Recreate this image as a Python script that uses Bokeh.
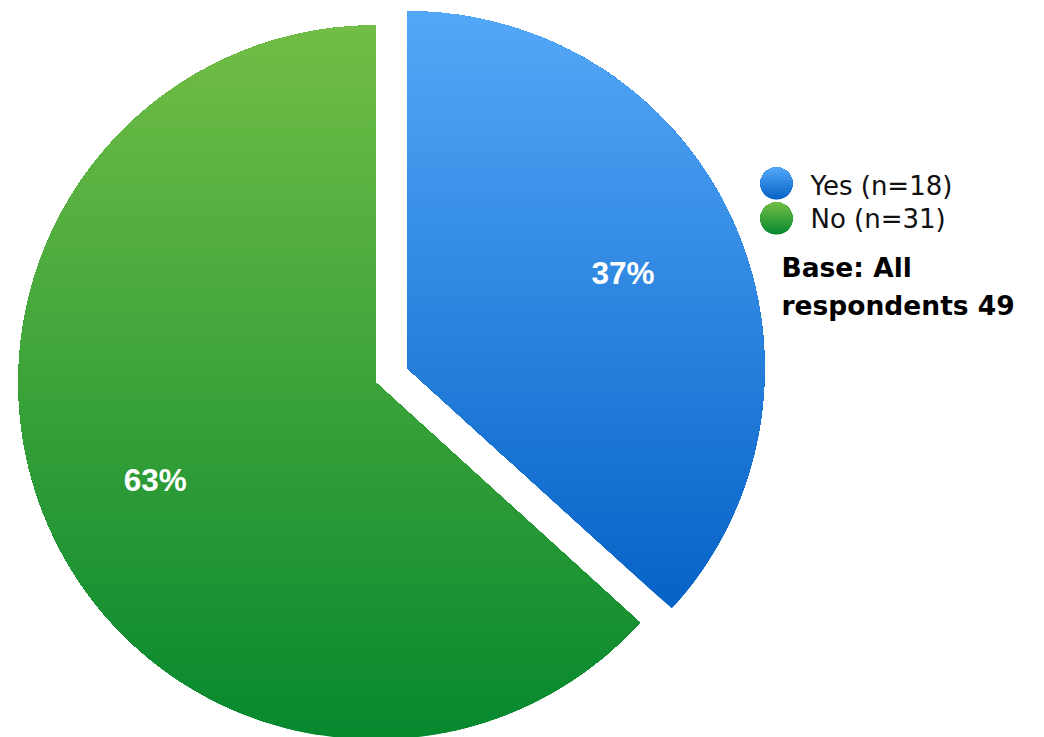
import numpy as np
from bokeh.plotting import figure
from bokeh.models import Range1d
from bokeh.core.properties import value
from bokeh.embed import file_html
from bokeh.resources import INLINE

# ---- data ----
categories = ["Yes", "No"]
counts = [18, 31]
legend_labels = ["Yes (n=18)", "No (n=31)"]
pct_labels = ["37%", "63%"]
base_lines = ["Base: All", "respondents 49"]

# ---- styles ----
top_colors = [(84, 168, 248), (114, 190, 70)]
bottom_colors = [(6, 98, 198), (6, 136, 46)]

W, H = 1044, 737
PAGE_H = 737  # data y = PAGE_H - page y


def py(y):
    return PAGE_H - y


p = figure(width=W, height=H, x_range=Range1d(0, W), y_range=Range1d(PAGE_H - H, PAGE_H),
           output_backend="svg", toolbar_location=None, min_border=0)
p.axis.visible = False
p.grid.visible = False
p.outline_line_color = None
p.background_fill_color = "white"
p.border_fill_color = "white"


def clip_above(xs, ys, t):
    ox, oy = [], []
    n = len(xs)
    for i in range(n):
        x1, y1 = xs[i], ys[i]
        x2, y2 = xs[(i + 1) % n], ys[(i + 1) % n]
        in1, in2 = y1 >= t, y2 >= t
        if in1:
            ox.append(x1); oy.append(y1)
        if in1 != in2:
            s = (t - y1) / (y2 - y1)
            ox.append(x1 + s * (x2 - x1)); oy.append(t)
    return ox, oy


def hexc(c):
    return "#%02x%02x%02x" % tuple(int(round(v)) for v in c)


def gradient_layers(xs, ys, top, bottom, n):
    ymin, ymax = min(ys), max(ys)
    lx, ly, lc = [], [], []
    for k in range(n):
        t = ymin + (ymax - ymin) * k / n
        f = (k + 0.5) / n  # 0 bottom -> 1 top
        col = [b + f * (a - b) for a, b in zip(top, bottom)]
        cx, cy = clip_above(xs, ys, t) if k > 0 else (list(xs), list(ys))
        if len(cx) >= 3:
            lx.append(cx); ly.append(cy); lc.append(hexc(col))
    return lx, ly, lc


# ---- pie ----
cx0, cy0 = 375.0, py(382.0)
R = 357.0
explode = [35.0, 0.0]
label_frac = [0.66, 0.675]

total = float(sum(counts))
angle = np.pi / 2
all_x, all_y, all_c = [], [], []
lab_x, lab_y = [], []
for i, c in enumerate(counts):
    sweep = 2 * np.pi * c / total
    a_start, a_end = angle - sweep, angle
    mid = (a_start + a_end) / 2
    ox = cx0 + explode[i] * np.cos(mid)
    oy = cy0 + explode[i] * np.sin(mid)
    th = np.linspace(a_start, a_end, 400)
    xs = [ox] + list(ox + R * np.cos(th))
    ys = [oy] + list(oy + R * np.sin(th))
    lx, ly, lc = gradient_layers(xs, ys, top_colors[i], bottom_colors[i], 160)
    all_x += lx; all_y += ly; all_c += lc
    lab_x.append(ox + label_frac[i] * R * np.cos(mid))
    lab_y.append(oy + label_frac[i] * R * np.sin(mid))
    angle = a_start

p.patches(all_x, all_y, fill_color=all_c, line_color=None)

p.text(x=lab_x, y=lab_y, text=pct_labels, text_color="white", text_align="center",
       text_baseline="middle", text_font=value("Liberation Sans"), text_font_style="bold",
       text_font_size="31.5px")

# ---- legend ----
leg_x = 776.0
leg_y = [py(183.0), py(218.0)]
leg_r = 16.0
th = np.linspace(0, 2 * np.pi, 120, endpoint=False)
gx, gy, gc = [], [], []
for i in range(len(categories)):
    xs = list(leg_x + leg_r * np.cos(th))
    ys = list(leg_y[i] + leg_r * np.sin(th))
    lx, ly, lc = gradient_layers(xs, ys, top_colors[i], bottom_colors[i], 30)
    gx += lx; gy += ly; gc += lc
p.patches(gx, gy, fill_color=gc, line_color=None)

p.text(x=[810.0] * 2, y=[py(185.0), py(218.0)], text=legend_labels, text_color="#111111",
       text_align="left", text_baseline="alphabetic", text_font=value("DejaVu Sans"),
       text_font_size="26px")

p.text(x=[781.0] * 2, y=[py(267.0), py(305.0)], text=base_lines, text_color="black",
       text_align="left", text_baseline="alphabetic", text_font=value("DejaVu Sans"),
       text_font_style="bold", text_font_size="26.5px")

open("out.html", "w").write(file_html(p, INLINE))
